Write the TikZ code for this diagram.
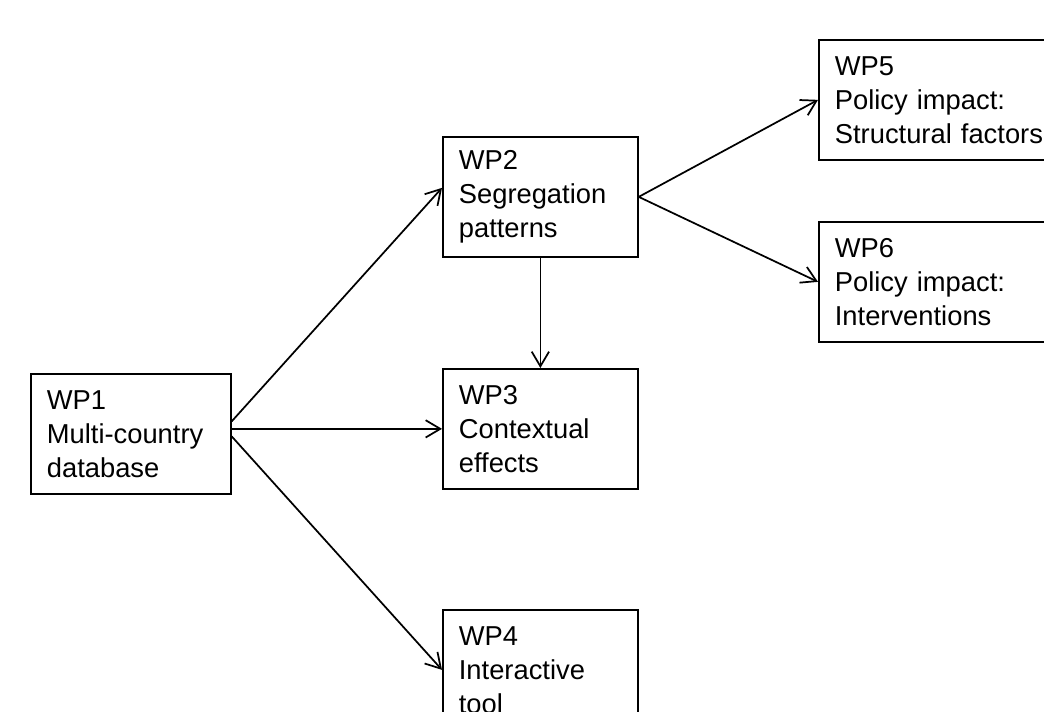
\documentclass[tikz,border=0pt]{standalone}
\usepackage{fontspec}
\setmainfont{Liberation Sans}
\usepackage{tikz}
\usetikzlibrary{arrows.meta}

\begin{document}
\begin{tikzpicture}[x=0.75pt, y=-0.75pt,
  wpbox/.style={draw, line width=1.3pt, anchor=north west, align=left,
    inner xsep=12pt, inner ysep=0pt, minimum height=90pt,
    font=\fontsize{20.5}{25.5}\selectfont},
  wparrow/.style={line width=1.3pt, -{Straight Barb[length=11pt,width=13pt,line width=1.3pt]}}]
\useasboundingbox (0,0) rectangle (1044,712);
\clip (0,0) rectangle (1044,712);

% Database
\node[wpbox, text width=126pt] (WP1) at (30,373) {WP1\\Multi-country\\database};

% Analysis packages
\node[wpbox, text width=122.25pt] (WP2) at (442,136) {WP2\\Segregation\\patterns};
\node[wpbox, text width=122.25pt] (WP3) at (442,368) {WP3\\Contextual\\effects};
\node[wpbox, text width=122.25pt] (WP4) at (442,609) {WP4\\Interactive\\tool};

% Policy packages
\node[wpbox, text width=162pt] (WP5) at (818,39) {WP5\\Policy impact:\\Structural factors};
\node[wpbox, text width=162pt] (WP6) at (818,221) {WP6\\Policy impact:\\Interventions};

% Links from WP1
\draw[wparrow] ([yshift=9.4pt]WP1.east) -- ([yshift=6.75pt]WP2.west);
\draw[wparrow] (WP1.east |- WP3.west) -- (WP3.west);
\draw[wparrow] ([yshift=-1.9pt]WP1.east) -- (WP4.west);

% Links from WP2
\draw[wparrow] (WP2.south) -- (WP3.north);
\draw[wparrow] (WP2.east) -- (WP5.west);
\draw[wparrow] (WP2.east) -- (WP6.west);
\end{tikzpicture}
\end{document}
